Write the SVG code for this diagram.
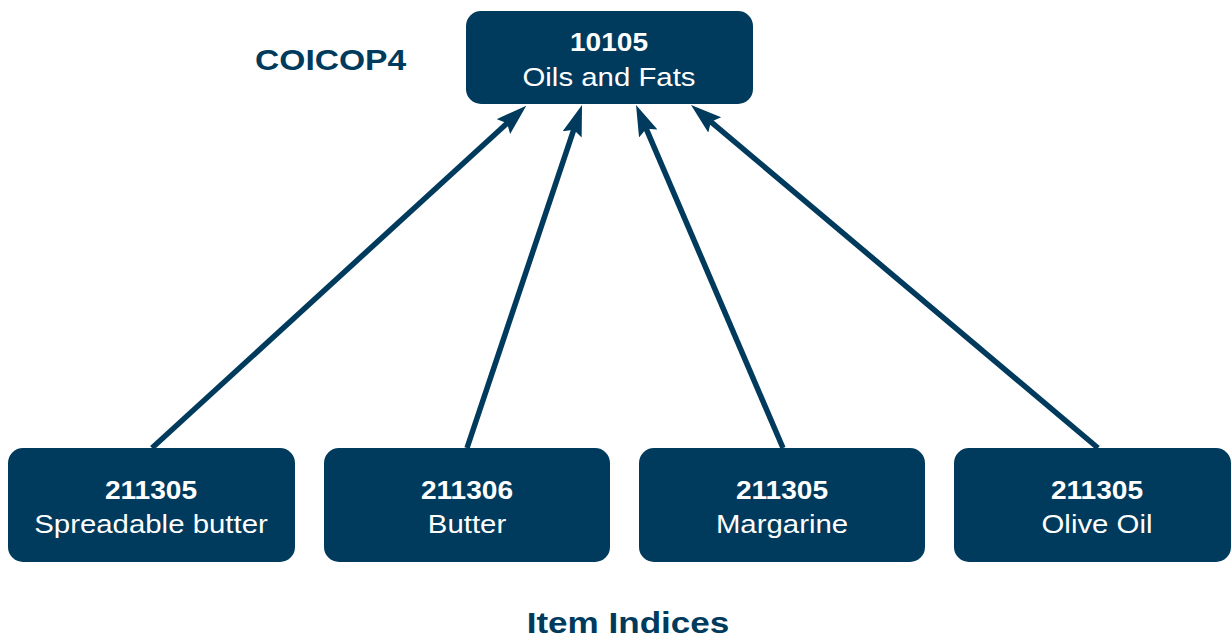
<svg xmlns="http://www.w3.org/2000/svg" width="1232" height="637" viewBox="0 0 1232 637">
<style>
.box{fill:#003a5c;}
.num{font-family:"Liberation Sans",Arial,sans-serif;font-weight:bold;font-size:26px;fill:#ffffff;text-anchor:middle;}
.lbl{font-family:"Liberation Sans",Arial,sans-serif;font-size:26px;fill:#ffffff;text-anchor:middle;}
.title{font-family:"Liberation Sans",Arial,sans-serif;font-weight:bold;font-size:30px;fill:#003a5c;}
.conn{stroke:#003a5c;stroke-width:5.5;fill:none;marker-end:url(#arr);}
</style>
<defs>
<marker id="arr" markerUnits="userSpaceOnUse" markerWidth="34" markerHeight="22" viewBox="0 0 34 22" refX="8" refY="10" orient="auto">
<path d="M0,0 L31,10 L0,20 L5,10 z" fill="#003a5c"/>
</marker>
</defs>
<rect width="1232" height="637" fill="#ffffff"/>
<text class="title" transform="translate(255,70) scale(1.12,1)">COICOP4</text>
<text class="title" text-anchor="middle" transform="translate(628,633) scale(1.17,1)">Item Indices</text>
<g id="connectors">
<line class="conn" x1="152" y1="448" x2="509.3" y2="121.2"/>
<line class="conn" x1="467" y1="448" x2="574.7" y2="126.8"/>
<line class="conn" x1="783" y1="448" x2="645.1" y2="126.1"/>
<line class="conn" x1="1098" y1="448" x2="708.6" y2="119.8"/>
</g>
<g id="node-10105">
<rect class="box" x="466" y="11" width="287" height="93" rx="15"/>
<text class="num" transform="translate(609,51) scale(1.08,1)">10105</text>
<text class="lbl" transform="translate(609,86) scale(1.13,1)">Oils and Fats</text>
</g>
<g id="node-spreadable">
<rect class="box" x="8" y="448" width="287" height="114" rx="15"/>
<text class="num" transform="translate(151,499) scale(1.08,1)">211305</text>
<text class="lbl" transform="translate(151,533) scale(1.13,1)">Spreadable butter</text>
</g>
<g id="node-butter">
<rect class="box" x="324" y="448" width="286" height="114" rx="15"/>
<text class="num" transform="translate(467,499) scale(1.08,1)">211306</text>
<text class="lbl" transform="translate(467,533) scale(1.13,1)">Butter</text>
</g>
<g id="node-margarine">
<rect class="box" x="639" y="448" width="286" height="114" rx="15"/>
<text class="num" transform="translate(782,499) scale(1.08,1)">211305</text>
<text class="lbl" transform="translate(782,533) scale(1.13,1)">Margarine</text>
</g>
<g id="node-olive">
<rect class="box" x="954" y="448" width="277" height="114" rx="15"/>
<text class="num" transform="translate(1097,499) scale(1.08,1)">211305</text>
<text class="lbl" transform="translate(1097,533) scale(1.13,1)">Olive Oil</text>
</g>
</svg>
